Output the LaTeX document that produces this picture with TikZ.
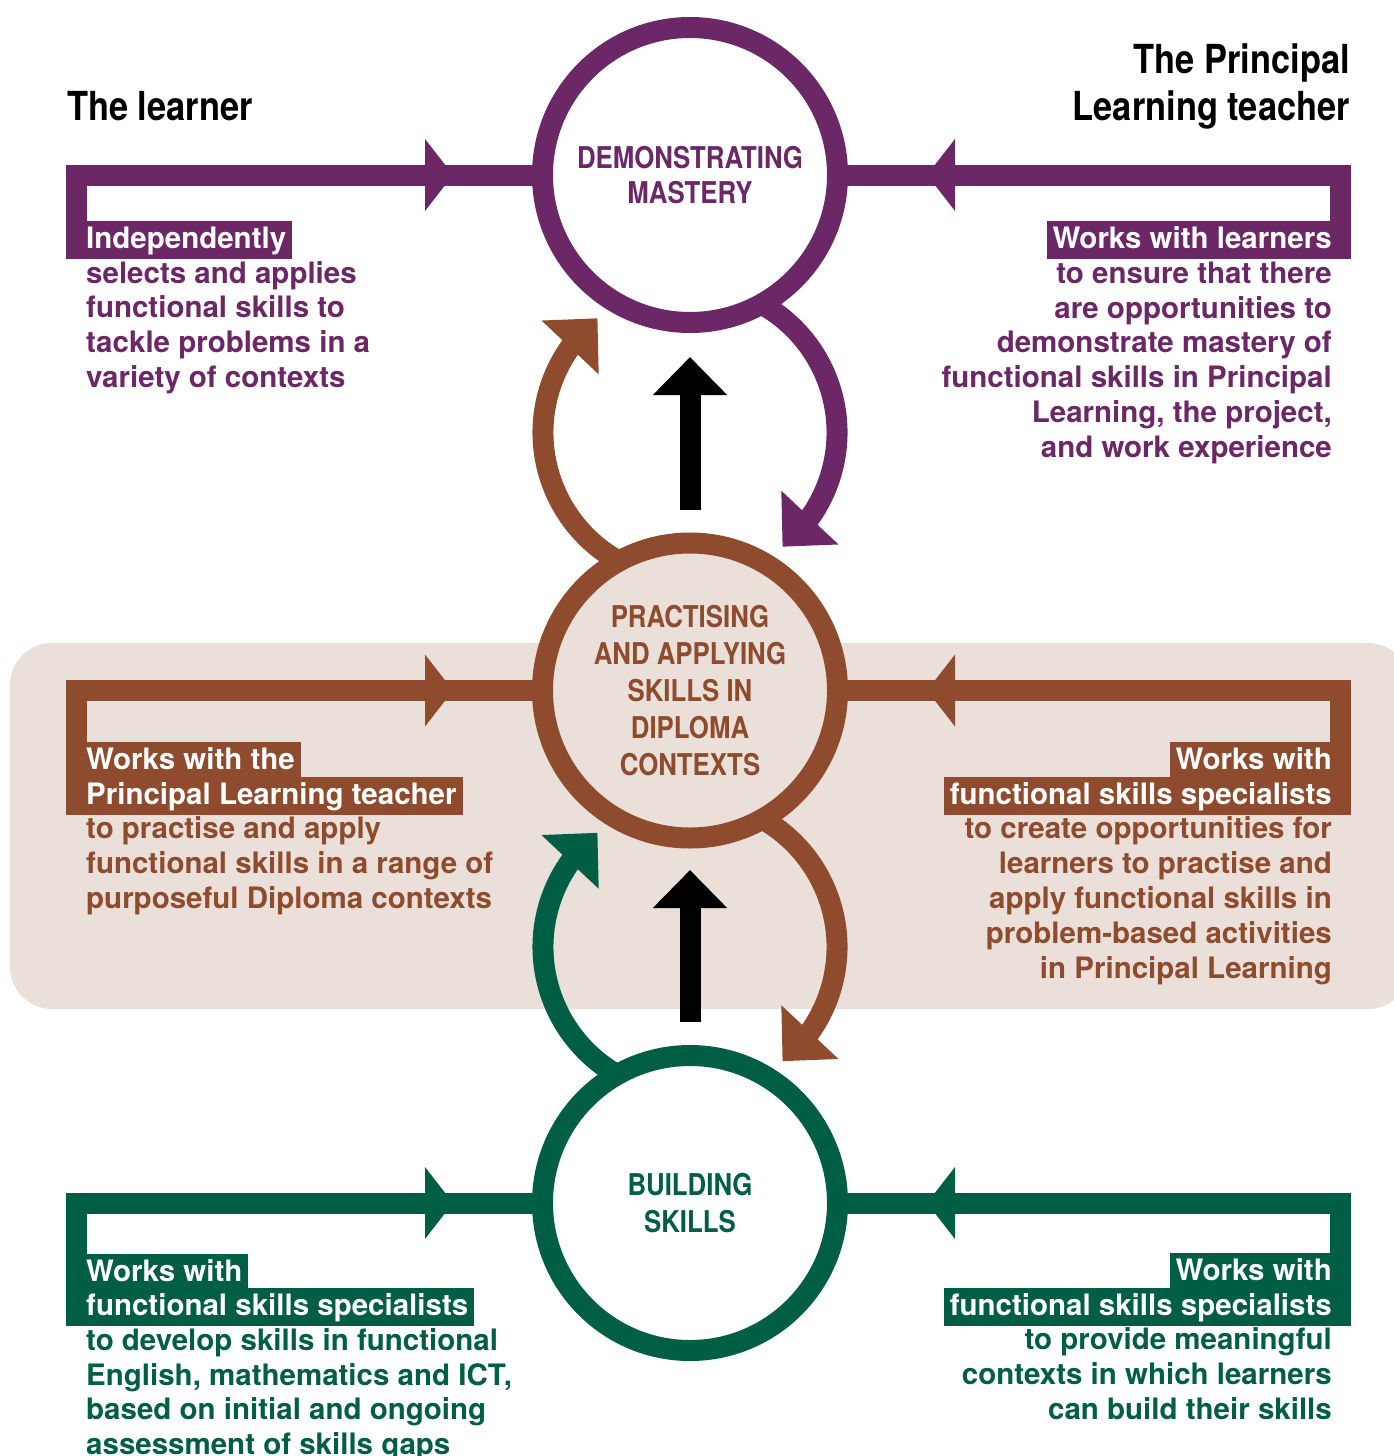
\documentclass[tikz,border=0pt]{standalone}
\usepackage{fontspec}
\setmainfont{TeX Gyre Heros}
\newfontfamily\condfont[FakeStretch=0.86]{TeX Gyre Heros}
\usetikzlibrary{arrows.meta,bending,calc}
\definecolor{cpurple}{HTML}{6B2766}
\definecolor{cbrown}{HTML}{8E4B2D}
\definecolor{cgreen}{HTML}{005E44}
\definecolor{cbeige}{HTML}{EAE0D9}
\pgfdeclarelayer{back}
\pgfdeclarelayer{under}
\pgfsetlayers{back,under,main}
\begin{document}
\begin{tikzpicture}[x=1pt,y=-1pt,
  circ/.style={circle, line width=21pt, minimum size=295pt, inner sep=0pt, align=center,
    font=\condfont\bfseries\fontsize{30}{37}\selectfont},
  bracketbar/.style={line width=21pt, line join=miter},
  curv/.style={line width=21pt, -{Triangle[length=40pt,width=76pt,flex]}},
  uparrow/.style={line width=21pt, -{Triangle[length=38pt,width=72pt]}},
  lbox/.style={anchor=base west, text=white, inner xsep=6pt, inner ysep=0pt,
    text height=27.5pt, text depth=10.5pt, font=\bfseries\fontsize{29.5}{34.75}\selectfont},
  rbox/.style={lbox, anchor=base east},
  ltext/.style={anchor=base west, inner sep=0pt, font=\bfseries\fontsize{29.5}{34.75}\selectfont},
  rtext/.style={ltext, anchor=base east},
  headtxt/.style={inner sep=0pt, font=\condfont\bfseries\fontsize{40}{46.7}\selectfont}
]
\useasboundingbox (0,0) rectangle (1394,1456);

\begin{pgfonlayer}{back}
  \fill[cbeige, rounded corners=42pt] (10,643) rectangle (1410,1009);
\end{pgfonlayer}

% circles
\node[circ, draw=cpurple, fill=white, text=cpurple,
  font=\condfont\bfseries\fontsize{30}{35.5}\selectfont] (c1) at (690,175) {DEMONSTRATING\\MASTERY};
\node[circ, draw=cbrown, fill=cbeige, text=cbrown] (c2) at (690,690.5)
  {PRACTISING\\AND APPLYING\\SKILLS IN\\DIPLOMA\\CONTEXTS};
\node[circ, draw=cgreen, fill=white, text=cgreen] (c3) at (690,1203) {BUILDING\\SKILLS};

% headings
\node[headtxt, anchor=base west] (hl) at (67,120) {The learner};
\node[headtxt, anchor=base east] (hr1) at (1350,73.3) {The Principal};
\node[headtxt, anchor=base east] (hr2) at (1350,120) {Learning teacher};

% curved and straight arrows between circles
\coordinate (m1) at (690,432.5);
\coordinate (m2) at (690,947);
\begin{pgfonlayer}{under}
  \draw[curv, cbrown] ([shift={(110:147)}]m1) arc[start angle=110, end angle=231, radius=147];
  \draw[curv, cpurple] ([shift={(-70:147)}]m1) arc[start angle=-70, end angle=51, radius=147];
  \draw[curv, cgreen] ([shift={(110:147)}]m2) arc[start angle=110, end angle=231, radius=147];
  \draw[curv, cbrown] ([shift={(-70:147)}]m2) arc[start angle=-70, end angle=51, radius=147];
\end{pgfonlayer}
\coordinate (k1s) at (690,509.5);
\coordinate (k1e) at (690,357);
\coordinate (k2s) at (690,1022);
\coordinate (k2e) at (690,870);
\draw[uparrow, black] (k1s) -- (k1e);
\draw[uparrow, black] (k2s) -- (k2e);

% bracket bars
\coordinate (pl) at (76,258.8);
\coordinate (pr) at (1340.5,258.8);
\coordinate (bl) at (76,814.5);
\coordinate (br) at (1340.5,814.5);
\coordinate (gl) at (76,1326);
\coordinate (gr) at (1340.5,1325.5);
\begin{pgfonlayer}{under}
  \draw[bracketbar, cpurple] (pl) |- (c1.center);
  \draw[bracketbar, cpurple] (pr) |- (c1.center);
  \draw[bracketbar, cbrown] (bl) |- (c2.center);
  \draw[bracketbar, cbrown] (br) |- (c2.center);
  \draw[bracketbar, cgreen] (gl) |- (c3.center);
  \draw[bracketbar, cgreen] (gr) |- (c3.center);
  \foreach \yy/\cc in {175/cpurple, 690.5/cbrown, 1203/cgreen}{
    \fill[\cc] (425,{\yy-36}) -- (453,\yy) -- (425,{\yy+36}) -- cycle;
    \fill[\cc] (955,{\yy-36}) -- (927,\yy) -- (955,{\yy+36}) -- cycle;
  }
\end{pgfonlayer}

% purple texts
\node[lbox, fill=cpurple] (pl0) at (80,248.3) {Independently};
\foreach \t [count=\i] in {selects and applies, functional skills to, tackle problems in a, variety of contexts}
  \node[ltext, text=cpurple] (pl\i) at (86,{248.3+34.75*\i}) {\t};
\node[rbox, fill=cpurple] (pr0) at (1338,248.5) {Works with learners};
\foreach \t [count=\i] in {to ensure that there, are opportunities to, demonstrate mastery of, functional skills in Principal, {Learning, the project,}, and work experience}
  \node[rtext, text=cpurple] (pr\i) at (1332,{248.5+34.75*\i}) {\t};

% brown texts
\node[lbox, fill=cbrown] (bla) at (80,769.3) {Works with the};
\node[lbox, fill=cbrown] (blb) at (80,804) {Principal Learning teacher};
\foreach \t [count=\i] in {to practise and apply, functional skills in a range of, purposeful Diploma contexts}
  \node[ltext, text=cbrown] (bl\i) at (86,{804+34.75*\i}) {\t};
\node[rbox, fill=cbrown] (bra) at (1338,769.3) {Works with};
\node[rbox, fill=cbrown] (brb) at (1338,804) {functional skills specialists};
\foreach \t [count=\i] in {to create opportunities for, learners to practise and, apply functional skills in, problem-based activities, in Principal Learning}
  \node[rtext, text=cbrown] (br\i) at (1332,{804+34.9*\i}) {\t};

% green texts
\node[lbox, fill=cgreen] (gla) at (80,1281) {Works with};
\node[lbox, fill=cgreen] (glb) at (80,1315.5) {functional skills specialists};
\foreach \t [count=\i] in {to develop skills in functional, {English, mathematics and ICT,}, based on initial and ongoing, assessment of skills gaps}
  \node[ltext, text=cgreen] (gl\i) at (86,{1315.5+34.75*\i}) {\t};
\node[rbox, fill=cgreen] (gra) at (1338,1280.7) {Works with};
\node[rbox, fill=cgreen] (grb) at (1338,1315) {functional skills specialists};
\foreach \t [count=\i] in {to provide meaningful, contexts in which learners, can build their skills}
  \node[rtext, text=cgreen] (gr\i) at (1332,{1315+34.75*\i}) {\t};
\end{tikzpicture}
\end{document}
